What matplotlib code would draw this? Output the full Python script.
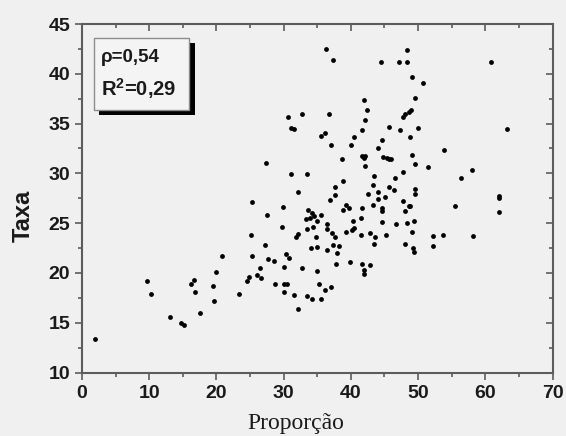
import numpy as np
import matplotlib.pyplot as plt
import matplotlib
from matplotlib.patches import Rectangle

matplotlib.rcParams['mathtext.fontset'] = 'custom'
matplotlib.rcParams['mathtext.rm'] = 'Liberation Sans:bold'
matplotlib.rcParams['mathtext.bf'] = 'Liberation Sans:bold'

# valores
proporcao = [2.0, 9.7, 10.2, 13.1, 14.7, 15.1, 16.2, 16.6, 16.8, 17.5,
             19.5, 19.6, 20.0, 20.8, 23.4, 24.6, 24.9, 25.1, 25.3, 25.3,
             26.0, 26.5, 26.7, 27.2, 27.5, 27.4, 27.7, 28.5, 28.7, 29.8,
             29.9, 30.0, 30.0, 30.1, 30.5, 30.4, 30.8, 30.6, 31.1, 31.1,
             31.6, 31.5, 31.9, 32.2, 32.1, 32.2, 32.7, 32.7, 33.5, 33.3,
             33.6, 33.9, 33.4, 33.5, 34.0, 34.2, 34.2, 34.5, 34.3, 34.8,
             35.0, 35.0, 35.0, 35.2, 35.5, 35.5, 35.5, 36.1, 36.1, 36.3,
             36.4, 36.5, 36.5, 36.7, 36.9, 37.0, 37.1, 37.2, 37.4, 37.4,
             37.6, 37.7, 37.7, 37.8, 38.0, 38.3, 38.7, 38.8, 38.8, 39.2,
             39.3, 39.7, 39.8, 40.0, 40.1, 40.3, 40.5, 40.4, 41.5, 41.5,
             41.6, 41.6, 41.6, 42.0, 42.1, 41.7, 41.9, 42.0, 42.0, 42.1,
             42.1, 42.4, 42.6, 42.8, 42.8, 43.3, 43.3, 43.4, 43.5, 43.6,
             44.0, 44.0, 44.1, 44.5, 44.7, 44.7, 44.7, 44.7, 44.8, 45.1,
             45.2, 45.3, 45.7, 46.0, 45.6, 45.7, 46.4, 46.5, 46.7, 47.1,
             47.3, 47.8, 48.0, 47.8, 47.8, 48.0, 48.1, 48.3, 48.3, 48.4,
             48.6, 48.6, 48.8, 48.8, 49.1, 49.0, 49.1, 49.1, 49.2, 49.4,
             49.4, 49.5, 49.6, 49.6, 49.6, 50.0, 50.8, 51.5, 52.2, 52.2,
             53.7, 53.8, 55.5, 56.4, 58.1, 58.0, 60.9, 62.0, 62.1, 62.1,
             63.2]
taxa = [13.4, 19.2, 17.9, 15.6, 15.0, 14.8, 18.9, 19.3, 18.1, 16.0,
        18.7, 17.2, 20.1, 21.7, 17.9, 19.2, 19.6, 23.8, 21.7, 27.1,
        19.8, 20.5, 19.5, 22.8, 25.8, 31.0, 21.4, 21.2, 18.9, 24.6,
        26.6, 20.6, 18.1, 18.9, 18.9, 21.9, 21.5, 35.7, 29.9, 34.6,
        34.5, 17.8, 23.6, 23.9, 28.1, 16.4, 36.0, 20.5, 29.9, 25.4,
        26.3, 25.5, 17.7, 24.4, 22.5, 17.4, 26.0, 25.7, 24.6, 23.6,
        22.6, 25.2, 20.2, 18.9, 17.4, 25.8, 33.8, 34.1, 18.3, 42.5,
        22.3, 24.9, 24.4, 36.0, 27.3, 18.6, 32.8, 24.0, 41.4, 22.8,
        27.8, 28.6, 23.6, 20.9, 22.0, 22.7, 31.4, 26.3, 29.2, 24.1,
        26.8, 26.5, 21.1, 32.8, 24.3, 25.2, 24.5, 33.7, 23.8, 25.5,
        26.5, 20.9, 31.7, 31.5, 31.7, 34.4, 37.4, 20.3, 19.9, 30.7,
        35.4, 36.4, 27.9, 24.0, 20.8, 28.8, 26.8, 22.9, 29.7, 23.6,
        32.5, 28.1, 27.4, 41.2, 33.4, 26.5, 26.2, 25.1, 31.6, 27.6,
        23.8, 31.5, 31.4, 31.4, 28.6, 34.7, 28.3, 29.5, 24.9, 41.2,
        34.4, 35.7, 36.0, 30.1, 27.2, 26.2, 22.9, 25.0, 42.4, 41.2,
        36.2, 26.7, 26.7, 33.7, 31.8, 36.4, 39.7, 24.1, 22.5, 22.1,
        25.2, 37.6, 30.9, 28.4, 27.9, 34.6, 39.1, 30.6, 23.7, 22.7,
        23.8, 32.3, 26.7, 29.5, 23.7, 30.3, 41.2, 26.1, 27.5, 27.7,
        34.5]
rho_txt = "ρ=0,54"
r2_txt = "R$^{2}$=0,29"

bg = '#f0f0f0'
frame = '#5c5c5c'
ink = '#1a1a1a'

fig = plt.figure(figsize=(5.66, 4.36), dpi=100, facecolor=bg)
ax = fig.add_axes([0.1449, 0.1456, 0.8313, 0.7993], facecolor=bg)

ax.scatter(proporcao, taxa, s=12, color='black', linewidths=0, zorder=3)

ax.set_xlim(0, 70)
ax.set_ylim(10, 45)
ax.set_xticks(np.arange(0, 71, 10))
ax.set_yticks(np.arange(10, 46, 5))
ax.set_xticks(np.arange(5, 70, 10), minor=True)
ax.set_yticks(np.arange(12.5, 45, 5), minor=True)

for s in ax.spines.values():
    s.set_color(frame)
    s.set_linewidth(1.5)

# eixos inferior/esquerdo com ticks para fora, superior/direito para dentro (estilo Origin)
ax.tick_params(which='both', direction='out', color=frame, width=1.2)
ax.tick_params(which='major', length=5, labelsize=14, labelcolor=ink)
ax.tick_params(axis='x', which='major', pad=4)
ax.tick_params(axis='y', which='major', pad=3.5)
ax.tick_params(which='minor', length=3)

sec_x = ax.secondary_xaxis('top')
sec_y = ax.secondary_yaxis('right')
for sec in (sec_x, sec_y):
    sec.spines[:].set_visible(False)
sec_x.set_xticks(np.arange(0, 71, 10))
sec_x.set_xticks(np.arange(5, 70, 10), minor=True)
sec_y.set_yticks(np.arange(10, 46, 5))
sec_y.set_yticks(np.arange(12.5, 45, 5), minor=True)
sec_x.tick_params(which='both', direction='in', labeltop=False, color=frame, width=1.2)
sec_y.tick_params(which='both', direction='in', labelright=False, color=frame, width=1.2)
for sec in (sec_x, sec_y):
    sec.tick_params(which='major', length=5)
    sec.tick_params(which='minor', length=3)

for lab in ax.get_xticklabels() + ax.get_yticklabels():
    lab.set_fontweight('bold')
    lab.set_family('Liberation Sans')

ax.set_ylabel('Taxa', fontsize=17, fontweight='bold', family='Liberation Sans', color=ink)
ax.yaxis.set_label_coords(-0.125, 0.45)
ax.yaxis.label.set_va('center')
ax.set_xlabel('Proporção', fontsize=17, family='Liberation Serif', color=ink)
ax.xaxis.set_label_coords(0.455, -0.145)
ax.xaxis.label.set_va('center')

# caixa de texto com sombra
t = ax.transAxes
def px(x, y):
    return ((x - 82) / 470.5, (372.5 - y) / 348.5)

x0, y0 = px(99, 114.5)
x1, y1 = px(194.5, 42.5)
ax.add_patch(Rectangle((x0, y0), x1 - x0, y1 - y0, transform=t,
                       facecolor='black', edgecolor='none', zorder=4, clip_on=False))
x0, y0 = px(94, 109.5)
x1, y1 = px(189, 37.5)
ax.add_patch(Rectangle((x0, y0), x1 - x0, y1 - y0, transform=t,
                       facecolor='#f4f4f4', edgecolor='#8c8c8c', linewidth=1.0, zorder=5, clip_on=False))
tx, ty = px(101, 57.5)
ax.text(tx, ty, rho_txt, transform=t, fontsize=13.5, fontweight='bold',
        family='Liberation Sans', va='center', ha='left', zorder=6, color=ink)
tx, ty = px(101, 89)
ax.text(tx, ty, r2_txt, transform=t, fontsize=14.5, fontweight='bold',
        family='Liberation Sans', va='center', ha='left', zorder=6, color=ink)

fig.savefig('out.png', dpi=100, facecolor=bg)
